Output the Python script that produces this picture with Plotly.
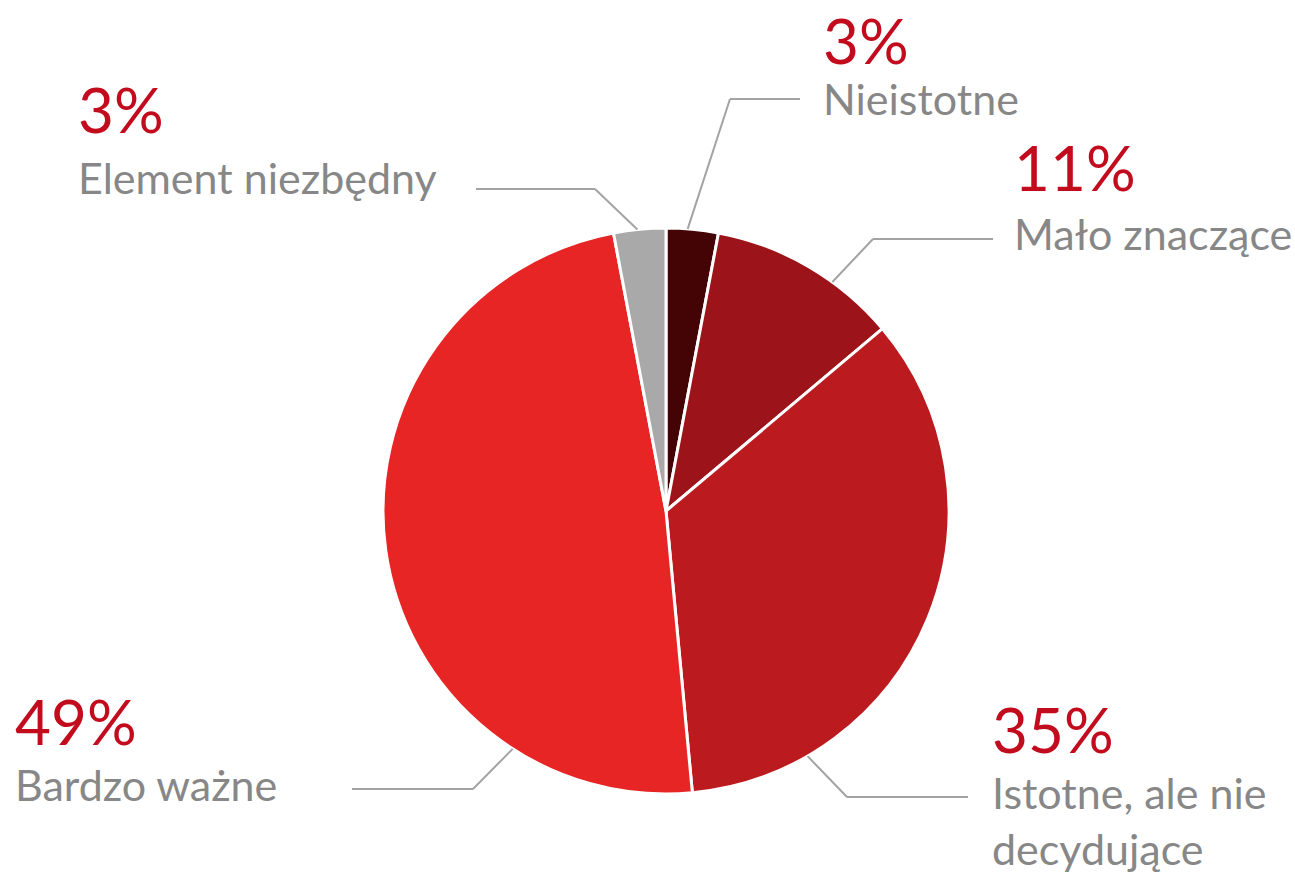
import math
import plotly.graph_objects as go

# ── Data ──────────────────────────────────────────────────────────────────────
labels = ["Nieistotne", "Mało znaczące", "Istotne, ale nie<br>decydujące",
          "Bardzo ważne", "Element niezbędny"]
values = [3, 11, 35, 49, 3]
pct_text = ["3%", "11%", "35%", "49%", "3%"]

# ── Style ─────────────────────────────────────────────────────────────────────
W, H = 1295, 880
colors = ["#440405", "#9c1419", "#bb1b1e", "#e62524", "#a9a9a9"]
RED = "#c20c1e"
GREY_TXT = "#878787"
GREY_LINE = "#a3a3a3"
FONT = "Lato, 'Noto Sans', sans-serif"

# pie geometry in pixels
CX, CY, R = 666, 511, 283

# label placement (pixels): left x, percent digit-centre y, label cap-top y
label_pos = [
    (821, 43, 84),
    (1012, 170.5, 219),
    (990, 731.5, 778),
    (13, 724, 770),
    (76, 112.5, 163),
]
# leader lines: rim angle (deg clockwise from top), elbow (x, y), end x
leaders = [
    (4.4, (730, 99), 800),
    (36.0, (873, 239), 993),
    (150.0, (847, 797), 968),
    (212.8, (473, 789), 352),
    (354.2, (595, 189), 476),
]


def px(x):
    return x / W


def py(y):
    return 1 - y / H


fig = go.Figure()
fig.add_trace(go.Pie(
    labels=labels, values=values,
    sort=False, direction="clockwise", rotation=0,
    textinfo="none", hoverinfo="label+percent",
    marker=dict(colors=colors, line=dict(color="white", width=3)),
    domain=dict(x=[px(CX - R), px(CX + R)], y=[py(CY + R), py(CY - R)]),
    showlegend=False,
))

shapes = []
for ang, (ex, ey), endx in leaders:
    a = math.radians(ang)
    sx = CX + R * math.sin(a)
    sy = CY - R * math.cos(a)
    line = dict(color=GREY_LINE, width=2)
    shapes.append(dict(type="line", xref="paper", yref="paper",
                       x0=px(sx), y0=py(sy), x1=px(ex), y1=py(ey), line=line))
    shapes.append(dict(type="line", xref="paper", yref="paper",
                       x0=px(ex), y0=py(ey), x1=px(endx), y1=py(ey), line=line))

annotations = []
for (lx, pcy, cap_top), pt, lab in zip(label_pos, pct_text, labels):
    annotations.append(dict(
        x=px(lx), y=py(pcy - 3), xref="paper", yref="paper",
        xanchor="left", yanchor="middle", showarrow=False, text=pt,
        height=54, valign="middle",
        font=dict(family=FONT, size=62, color=RED),
    ))
    annotations.append(dict(
        x=px(lx), y=py(cap_top - 13), xref="paper", yref="paper",
        xanchor="left", yanchor="top", showarrow=False, text=lab,
        align="left",
        font=dict(family=FONT, size=43, color=GREY_TXT),
    ))

fig.update_layout(
    width=W, height=H,
    margin=dict(l=0, r=0, t=0, b=0),
    paper_bgcolor="white", plot_bgcolor="white",
    shapes=shapes, annotations=annotations,
)

fig.write_html("out.html", config={"displayModeBar": False},
               post_script="document.body.style.margin='0';")
